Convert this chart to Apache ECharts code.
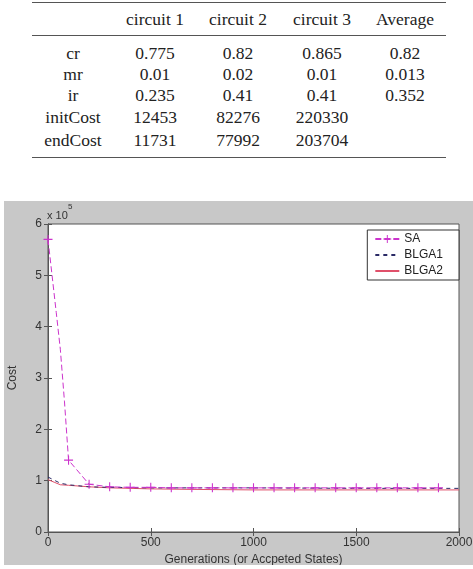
<!DOCTYPE html>
<html lang="en">
<head>
	<meta charset="UTF-8">
	<title>Cost vs generations</title>
	<script src="https://cdn.jsdelivr.net/npm/echarts@6/dist/echarts.min.js"></script>
	<style>
		body { margin: 0; background: #fff; width: 473px; height: 569px; position: relative; overflow: hidden; }
		#params { position: absolute; left: 0; top: 0; width: 473px; height: 170px; font-family: "Liberation Serif", "Times New Roman", serif; font-size: 17.5px; color: #222; }
		#params .cell { position: absolute; width: 100px; height: 20px; line-height: 20px; text-align: center; white-space: nowrap; }
		#params .rule { position: absolute; left: 32px; width: 414px; height: 1.5px; background: #555; }
		#cost-chart { position: absolute; left: 4px; top: 201px; width: 469px; height: 364px; background: #c8c8c8; }
	</style>
</head>
<body>
	<div id="params"></div>
	<div id="cost-chart"></div>
</body>
<script>
// parameter table
var columns = ['circuit 1', 'circuit 2', 'circuit 3', 'Average'];
var rowNames = ['cr', 'mr', 'ir', 'initCost', 'endCost'];
var crRow = ['0.775', '0.82', '0.865', '0.82'];
var mrRow = ['0.01', '0.02', '0.01', '0.013'];
var irRow = ['0.235', '0.41', '0.41', '0.352'];
var initCostRow = ['12453', '82276', '220330', ''];
var endCostRow = ['11731', '77992', '203704', ''];

// cost curves (generation, cost)
var saGens = [0, 20, 40, 60, 80, 100, 200, 300, 400, 500, 600, 700, 800, 900, 1000, 1100, 1200, 1300, 1400, 1500, 1600, 1700, 1800, 1900];
var saCost = [570000, 499000, 428000, 356000, 255000, 140000, 93000, 88000, 87000, 87000, 86000, 86000, 86000, 86000, 86000, 86000, 86000, 86000, 86000, 86000, 86000, 86000, 86000, 86000];
var blga1Gens = [0, 30, 60, 100, 150, 200, 300, 500, 1000, 1500, 2000];
var blga1Cost = [107000, 101000, 95000, 92000, 90000, 88000, 87000, 86000, 86000, 85000, 85000];
var blga2Gens = [0, 30, 60, 100, 200, 300, 400, 500, 700, 1000, 1500, 2000];
var blga2Cost = [102000, 97000, 92000, 91000, 88000, 86000, 85000, 84000, 83000, 82000, 82000, 82000];

var colCenters = [73, 155, 238, 322, 405];
var rowCenters = [52.5, 73.5, 95, 117, 139.5];
var headerCenter = 19;

var tbl = document.getElementById('params');
function addCell(text, cx, cy) {
    var d = document.createElement('div');
    d.className = 'cell';
    d.textContent = text;
    d.style.left = (cx - 50) + 'px';
    d.style.top = (cy - 10) + 'px';
    tbl.appendChild(d);
}
function addRule(y) {
    var r = document.createElement('div');
    r.className = 'rule';
    r.style.top = y + 'px';
    tbl.appendChild(r);
}
addRule(1.5);
addRule(34.5);
addRule(156.5);
columns.forEach(function (c, i) { addCell(c, colCenters[i + 1], headerCenter); });
[crRow, mrRow, irRow, initCostRow, endCostRow].forEach(function (row, r) {
    addCell(rowNames[r], colCenters[0], rowCenters[r]);
    row.forEach(function (v, i) { addCell(v, colCenters[i + 1], rowCenters[r]); });
});

// chart
var plusSymbol = 'path://M4.4,0H5.6V4.4H10V5.6H5.6V10H4.4V5.6H0V4.4H4.4Z';
var font = 'Liberation Sans, Arial, sans-serif';

function pairs(xs, ys) {
    return xs.map(function (x, i) { return [x, ys[i]]; });
}
var saData = saGens.map(function (g, i) {
    return { value: [g, saCost[i]], symbol: g % 100 === 0 ? plusSymbol : 'none' };
});

var myChart = echarts.init(document.getElementById('cost-chart'));
var axisCommon = {
    type: 'value',
    axisLine: { show: true, lineStyle: { color: '#555', width: 1 } },
    axisTick: { show: true, inside: true, length: 4, lineStyle: { color: '#555' } },
    splitLine: { show: false }
};
var hiddenMark = { color: 'rgba(0,0,0,0)', opacity: 0, borderWidth: 0 };
option = {
    animation: false,
    textStyle: { fontFamily: font },
    grid: {
        left: 44, top: 23, right: 14, bottom: 33,
        containLabel: false,
        outerBoundsMode: 'none',
        show: true, backgroundColor: '#fff', borderColor: '#555', borderWidth: 1
    },
    legend: {
        data: [
            { name: 'SA' },
            { name: 'BLGA1', itemStyle: hiddenMark },
            { name: 'BLGA2', itemStyle: hiddenMark }
        ],
        orient: 'vertical',
        right: 14,
        top: 29,
        backgroundColor: '#fff',
        borderColor: '#333',
        borderWidth: 1,
        borderRadius: 0,
        padding: [3, 16, 3, 7],
        itemWidth: 24,
        itemHeight: 10,
        itemGap: 4,
        textStyle: { fontSize: 12, color: '#222', fontFamily: font }
    },
    graphic: [
        { type: 'text', left: 43, top: 9, style: { text: 'x 10', fontSize: 11, fill: '#333', fontFamily: font } },
        { type: 'text', left: 64, top: 2, style: { text: '5', fontSize: 8, fill: '#333', fontFamily: font } }
    ],
    xAxis: [
        Object.assign({}, axisCommon, {
            min: 0, max: 2000, interval: 500,
            axisLabel: { color: '#333', fontSize: 12, margin: 5, formatter: function (v) { return String(v); } },
            name: 'Generations (or Accpeted States)',
            nameLocation: 'middle',
            nameGap: 19,
            nameTextStyle: { color: '#333', fontSize: 12 }
        }),
        Object.assign({}, axisCommon, {
            position: 'top', min: 0, max: 2000, interval: 500,
            axisLabel: { show: false }
        })
    ],
    yAxis: [
        Object.assign({}, axisCommon, {
            min: 0, max: 600000, interval: 100000,
            axisLabel: {
                color: '#333', fontSize: 12, margin: 6,
                formatter: function (v) { return String(v / 100000); }
            },
            name: 'Cost',
            nameLocation: 'middle',
            nameGap: 29,
            nameTextStyle: { color: '#333', fontSize: 12 }
        }),
        Object.assign({}, axisCommon, {
            position: 'right', min: 0, max: 600000, interval: 100000,
            axisLabel: { show: false }
        })
    ],
    series: [
        {
            name: 'SA',
            type: 'line',
            data: saData,
            symbol: plusSymbol,
            symbolSize: 9,
            showSymbol: true,
            itemStyle: { color: '#cc33cc' },
            lineStyle: { color: '#cc33cc', width: 1, type: [6, 3] },
            z: 3
        },
        {
            name: 'BLGA1',
            type: 'line',
            data: pairs(blga1Gens, blga1Cost),
            symbol: 'none',
            itemStyle: { color: '#2a2a66' },
            lineStyle: { color: '#2a2a66', width: 1, type: [4, 4] },
            z: 2
        },
        {
            name: 'BLGA2',
            type: 'line',
            data: pairs(blga2Gens, blga2Cost),
            symbol: 'none',
            itemStyle: { color: '#e0506a' },
            lineStyle: { color: '#e0506a', width: 1 },
            z: 1
        }
    ]
};
myChart.setOption(option);
</script>
</html>
